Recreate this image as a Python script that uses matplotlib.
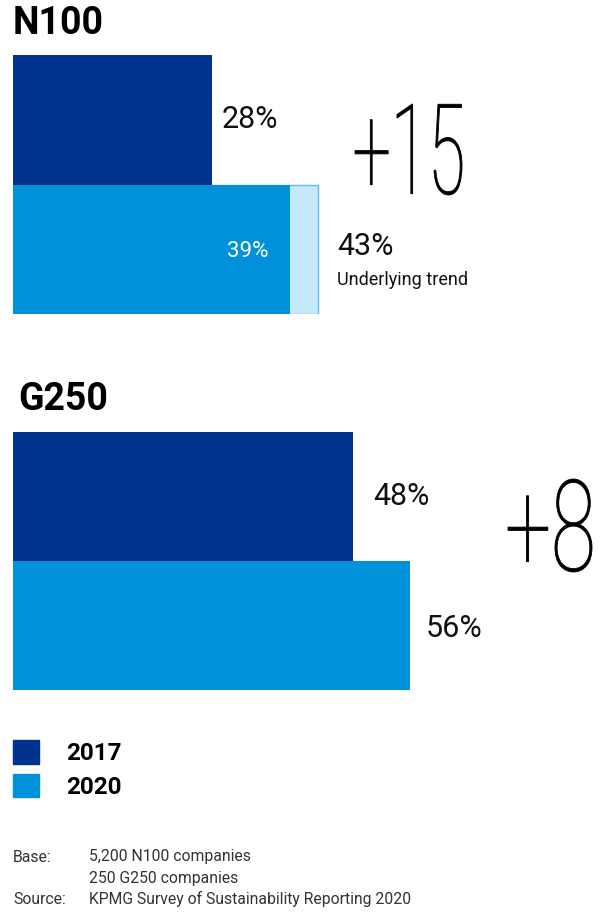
import matplotlib
matplotlib.use("Agg")
import matplotlib.pyplot as plt
from matplotlib.patches import Patch, PathPatch
from matplotlib.textpath import TextPath
from matplotlib.font_manager import FontProperties
from matplotlib.transforms import Affine2D

# data
groups = ["N100", "G250"]
years = ["2017", "2020"]
n100_values = [28, 39]
n100_trend = 43
g250_values = [48, 56]
changes = ["+15", "+8"]
base_lines = ["5,200 N100 companies", "250 G250 companies"]
source_line = "KPMG Survey of Sustainability Reporting 2020"

DARK = "#00338D"
MID = "#0091DA"
PALE = "#C6E9FA"

W, H = 600, 919
PX_PER_PCT = 7.09

plt.rcParams['font.family'] = ['Roboto', 'DejaVu Sans']

fig = plt.figure(figsize=(W / 100, H / 100), dpi=100)


def make_axes(top, bottom):
    # axes spanning from the bar origin to the right edge, in pixel units
    left = 13
    ax = fig.add_axes([left / W, 1 - bottom / H, (W - left) / W, (bottom - top) / H])
    ax.set_xlim(0, (W - left) / PX_PER_PCT)
    ax.set_ylim(2, 0)
    ax.axis("off")
    return ax


def big_number(text, x0, y0, x1, y1):
    """draws a thin, condensed number filling the pixel box"""
    tp = TextPath((0, 0), text, size=100,
                  prop=FontProperties(family='Roboto', weight=100))
    ext = tp.get_extents()
    sx = (x1 - x0) / ext.width / W
    sy = (y1 - y0) / ext.height / H
    tr = Affine2D().translate(-ext.x0, -ext.y0).scale(sx, sy).translate(x0 / W, 1 - y1 / H)
    patch = PathPatch(tr.transform_path(tp), fc="black", ec="black", lw=0.6,
                      transform=fig.transFigure)
    fig.add_artist(patch)


def value_label(ax, x, y, s, dx=10, size=22, color="#111111"):
    ax.annotate(s, (x, y), xytext=(dx, 0), textcoords="offset points",
                va="center", ha="left", fontsize=size, color=color)


# N100
ax1 = make_axes(55, 314)
ax1.barh(1, n100_trend, height=1, align="edge", color=PALE, edgecolor="#5BBDEB", linewidth=1)
ax1.barh([0, 1], n100_values, height=1, align="edge", color=[DARK, MID], linewidth=0)
value_label(ax1, n100_values[0], 0.5, f"{n100_values[0]}%", dx=7)
ax1.annotate(f"{n100_values[1]}%", (n100_values[1], 1.52), xytext=(-15, 0),
             textcoords="offset points", ha="right", va="center",
             fontsize=16, color="white")
value_label(ax1, n100_trend, 1.48, f"{n100_trend}%", dx=14)
ax1.annotate("Underlying trend", (n100_trend, 1.74), xytext=(14, 0),
             textcoords="offset points", ha="left", va="center", fontsize=13,
             color="#111111")

# G250
ax2 = make_axes(432, 690)
ax2.barh([0, 1], g250_values, height=1, align="edge", color=[DARK, MID], linewidth=0)
value_label(ax2, g250_values[0], 0.5, f"{g250_values[0]}%", dx=14)
value_label(ax2, g250_values[1], 1.52, f"{g250_values[1]}%", dx=11.5)

# titles
fig.text(13 / W, 1 - 24 / H, groups[0], fontsize=27, weight="bold", va="center")
fig.text(18 / W, 1 - 400 / H, groups[1], fontsize=27, weight="bold", va="center")

# big change numbers
big_number(changes[0], 355, 104, 462, 195)
big_number(changes[1], 508, 479, 592, 572)

# legend
handles = [Patch(color=DARK), Patch(color=MID)]
fig.legend(handles, years, loc="upper left", bbox_to_anchor=(13 / W, 1 - 740 / H),
           frameon=False, prop={"weight": "bold", "size": 17.5},
           handlelength=1.08, handleheight=1.12, handletextpad=1.1,
           labelspacing=0.35, borderpad=0, borderaxespad=0)

# footnotes
foot = dict(fontsize=11.3, va="center", color="#333333")
fig.text(13 / W, 1 - 857 / H, "Base:", **foot)
fig.text(89 / W, 1 - 857 / H, base_lines[0], **foot)
fig.text(89 / W, 1 - 878 / H, base_lines[1], **foot)
fig.text(13 / W, 1 - 899 / H, "Source:", **foot)
fig.text(89 / W, 1 - 899 / H, source_line, **foot)

fig.savefig("out.png", dpi=100)
